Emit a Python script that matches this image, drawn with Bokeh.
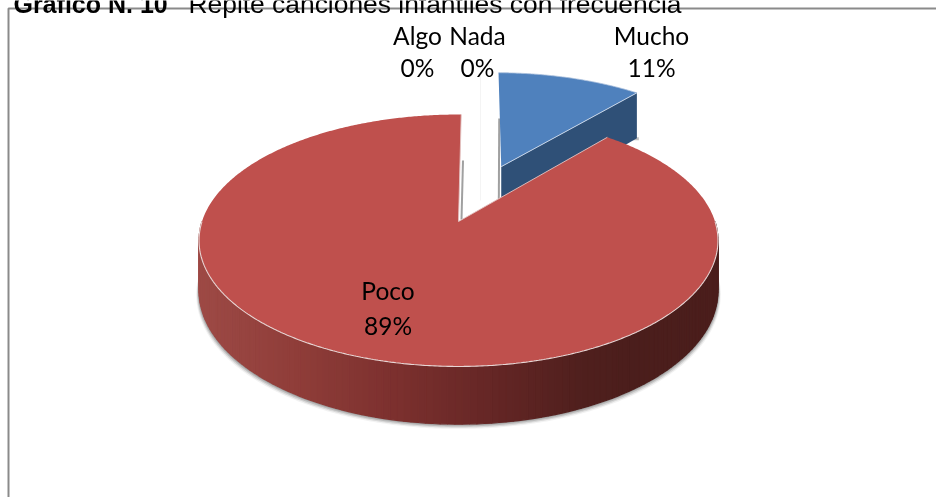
import numpy as np
from bokeh.plotting import figure
from bokeh.models import Range1d
from bokeh.core.properties import value
from bokeh.embed import file_html
from bokeh.resources import INLINE

# --- data ---
categories = ["Mucho", "Poco", "Algo", "Nada"]
percents = [11, 89, 0, 0]
slice_colors = ["#4F81BD", "#BF504D", "#9BBB59", "#8064A2"]
wall_colors = ["#2F5077", "#9E4A46"]
title_bold = "Gráfico N. 10"
title_rest = "Repite canciones infantiles con frecuencia"

W, H = 936, 497
p = figure(width=W, height=H, output_backend="svg", toolbar_location=None,
           x_range=Range1d(0, W), y_range=Range1d(H, 0),
           min_border=0, outline_line_color=None, background_fill_color="white")
p.xaxis.visible = False
p.yaxis.visible = False
p.grid.visible = False
p.styles = {"position": "fixed", "left": "0", "top": "0"}

# perspective projection of the unit disc
CX, CY, A, B, K, DEPTH, DEPTH_M = 458.0, 221.0, 256.5, 123.1, 0.1507, 49.0, 54.0
ROT = 0.7

def project(X, Y, drop=0.0):
    d = 1 + K * np.asarray(Y)
    return CX + A * np.asarray(X) / d, CY + (-B * np.asarray(Y) + drop) / d

def arc(t0, t1, ox=0.0, oy=0.0, drop=0.0):
    t = np.radians(np.linspace(t0, t1, max(2, int(abs(t1 - t0) * 2) + 1)))
    return project(ox + np.sin(t), oy + np.cos(t), drop)

total = sum(percents)
ang = np.cumsum([0] + percents) / total * 360 + ROT
m0, m1 = ang[0], ang[1]
r0, r1 = ang[1], ang[2]
mid = np.radians((m0 + m1) / 2)
EXPL = 0.51
ox, oy = EXPL * np.sin(mid), EXPL * np.cos(mid)

# frame
p.line([8, 8, W], [H, 8, 8], line_color="#8a8a8a", line_width=2)

# soft shadow under the pie
for off, a in [(4, 0.10), (3, 0.22), (2, 0.35), (1, 0.5)]:
    x, y = arc(90, 270, drop=DEPTH + off)
    xt, yt = project(np.array([1.0, -1.0]), np.array([0.0, 0.0]))
    p.patch(np.r_[x + np.where(x > CX, off, -off) * 0.7, xt[1], xt[0]],
            np.r_[y, yt[1], yt[0]], fill_color="#808080", fill_alpha=a, line_color=None)

# --- Mucho wedge walls ---
ax, ay = project(ox, oy)
axd, ayd = project(ox, oy, DEPTH_M)
ex, ey = arc(m1, m1, ox, oy)
exd, eyd = arc(m1, m1, ox, oy, DEPTH_M)
sx, sy = arc(m0, m0, ox, oy)
# shadow at the base of the wedge wall and beside the rear wall
p.patch([float(ex[-1]) - 4, float(ex[-1]) + 2, float(ex[-1]) + 2, float(ex[-1]) - 4],
        [float(eyd[-1]) - 1, float(eyd[-1]) - 1, float(eyd[-1]) + 2, float(eyd[-1]) + 2],
        fill_color="#999999", fill_alpha=0.6, line_color=None)
p.patch([float(ax), float(ex[-1]), float(exd[-1]), float(axd)],
        [float(ay), float(ey[-1]), float(eyd[-1]), float(ayd)],
        fill_color=wall_colors[0], line_color=None)
p.line([float(ax) - 2, float(ax) - 2.5], [118, float(ayd)], line_color="#a0a0a0", line_width=2)
p.line([480, 480], [75, 200], line_color="#f4f4f4", line_width=1)

# --- Mucho top ---
x, y = arc(m0, m1, ox, oy)
p.patch(np.r_[ax, x], np.r_[ay, y], fill_color=slice_colors[0], line_color=None)
p.line(np.r_[ex[-1], ax], np.r_[ey[-1], ay], line_color="#c5d3e6", line_width=1)
p.line(x, y, line_color="#a9bfdc", line_width=0.8)

# --- Poco cylinder wall, shaded in bands from left to right ---
stops_x = [198, 300, 400, 500, 580, 640, 718]
stops_c = [(0x9E, 0x4A, 0x46), (0x8F, 0x3D, 0x39), (0x7B, 0x30, 0x2E),
           (0x63, 0x26, 0x25), (0x50, 0x20, 0x1E), (0x4B, 0x1E, 0x1C), (0x4B, 0x1E, 0x1C)]
edges = np.radians(np.linspace(90, 270, 130))
xs_list, ys_list, cols = [], [], []
for a0, a1 in zip(edges[:-1], edges[1:]):
    X = np.sin([a0, a1]); Y = np.cos([a0, a1])
    tx, ty = project(X, Y)
    bx, by = project(X, Y, DEPTH)
    xm = float(tx.mean())
    c = [int(np.interp(xm, stops_x, [s[i] for s in stops_c])) for i in range(3)]
    xs_list.append([tx[0], tx[1], bx[1], bx[0]])
    ys_list.append([ty[0], ty[1], by[1], by[0]])
    cols.append("#%02x%02x%02x" % tuple(c))
p.patches(xs_list, ys_list, fill_color=cols, line_color=cols, line_width=1.2)

# --- Poco top ---
cx0, cy0 = project(0.0, 0.0)
x, y = arc(r0, r1)
p.patch(np.r_[cx0, x, cx0], np.r_[cy0, y, cy0], fill_color=slice_colors[1], line_color=None)
# highlight along the front rim
xr, yr = arc(90, 270)
p.line(xr, yr, line_color="#e8d6d5", line_width=1.1)
# notch shadow and edges
xa, ya = arc(r1, r1)
xb, yb = arc(r0, r0)
p.line([float(cx0) + 3, float(cx0) + 4.5], [float(cy0) - 2, 160], line_color="#a0a0a0", line_width=2)
p.line([float(cx0), float(xa[-1])], [float(cy0), float(ya[-1])], line_color="#e3c4c3", line_width=0.9)
p.line([float(cx0), float(xb[0])], [float(cy0), float(yb[0])], line_color="#e3c4c3", line_width=0.9)

# --- labels ---
label_x = [651, 387.5, 417, 477]
name_y = [35, 290, 35, 35]
pct_y = [67, 325, 67, 67]
FONT = value("Lato")
for name, pct, lx, ny, py in zip(categories, percents, label_x, name_y, pct_y):
    p.text([lx], [ny], text=[name], text_font=FONT, text_font_size="24.5px", text_color="black",
           text_align="center", text_baseline="middle")
    p.text([lx], [py], text=[f"{pct}%"], text_font=FONT,
           text_font_size="24.5px", text_color="black", text_align="center", text_baseline="middle")

# --- title, cut by the top of the picture as in the reference ---
TF = value("Liberation Sans")
p.text([13], [3], text=[title_bold], text_font=TF, text_font_style="bold", text_font_size="25px",
       text_color="black", text_align="left", text_baseline="alphabetic")
p.text([188], [3], text=[title_rest], text_font=TF, text_font_size="26.4px",
       text_color="black", text_align="left", text_baseline="alphabetic")

open("out.html", "w").write(file_html(p, INLINE))
